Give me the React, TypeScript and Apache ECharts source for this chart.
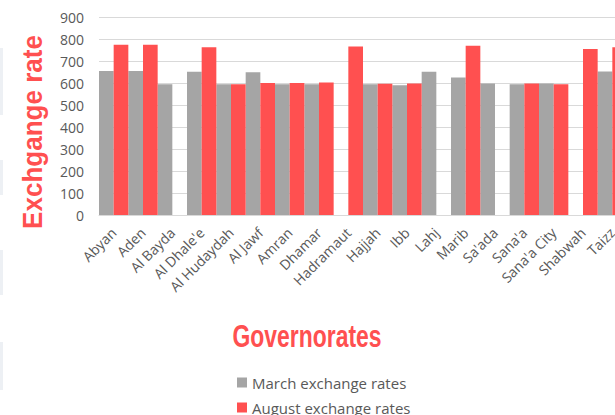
import React, { useEffect, useRef } from "react";
import * as echarts from "echarts";

const categories = [
  "Abyan", "Aden", "Al Bayda", "Al Dhale'e", "Al Hudaydah", "Al Jawf", "Amran", "Dhamar",
  "Hadramaut", "Hajjah", "Ibb", "Lahj", "Marib", "Sa'ada", "Sana'a", "Sana'a City", "Shabwah", "Taizz",
];
const marchRates = [655, 655, 594, 651, 594, 649, 594, 594, null, 594, 590, 651, 625, 598, 594, 598, null, 652];
const augustRates = [774, 774, null, 763, 594, 600, 600, 602, 766, 597, 598, null, 769, null, 598, 594, 754, 763];
const yTicks = [0, 100, 200, 300, 400, 500, 600, 700, 800, 900];

const GRAY = "#A5A5A5";
const RED = "#FF5050";
const TEXT = "#595959";
const FONT = "'Open Sans', 'Noto Sans', sans-serif";

export default function App() {
  const ref = useRef<HTMLDivElement>(null);
  useEffect(() => {
    document.body.style.margin = "0";
    const chart = echarts.init(ref.current!, null, { renderer: "svg" });
    const strips = [
      [48, 115],
      [160, 195],
      [250, 295],
      [342, 390],
    ];
    chart.setOption({
      animation: false,
      backgroundColor: "#ffffff",
      grid: { left: 99, top: 17, width: 528, height: 198, containLabel: false },
      xAxis: {
        type: "category",
        data: categories,
        axisTick: { show: false },
        axisLine: { lineStyle: { color: "#D9D9D9", width: 1 } },
        axisLabel: {
          interval: 0,
          rotate: 45,
          color: TEXT,
          fontFamily: FONT,
          fontSize: 14,
          margin: 15,
        },
      },
      yAxis: {
        type: "value",
        min: yTicks[0],
        max: yTicks[yTicks.length - 1],
        interval: 100,
        axisLine: { show: false },
        axisTick: { show: false },
        splitLine: { lineStyle: { color: "#D9D9D9", width: 1 } },
        axisLabel: { color: TEXT, fontFamily: FONT, fontSize: 14, margin: 15 },
      },
      legend: {
        orient: "vertical",
        left: 237,
        top: 375,
        padding: 0,
        itemWidth: 10,
        itemHeight: 10,
        itemGap: 10,
        icon: "rect",
        textStyle: { color: TEXT, fontFamily: FONT, fontSize: 15, lineHeight: 14 },
        data: ["March exchange rates", "August exchange rates"],
      },
      graphic: [
        ...strips.map(([a, b]) => ({
          type: "rect",
          shape: { x: 0, y: a, width: 3, height: b - a },
          style: { fill: "#EDF0F4" },
          silent: true,
        })),
        {
          type: "text",
          x: 33,
          y: 132,
          rotation: Math.PI / 2,
          scaleX: 0.93,
          style: {
            text: "Exchgange rate",
            fill: RED,
            font: "bold 28px 'Liberation Sans', Arial, sans-serif",
            textAlign: "center",
            textVerticalAlign: "middle",
          },
        },
        {
          type: "text",
          x: 307,
          y: 336,
          scaleX: 0.74,
          style: {
            text: "Governorates",
            fill: RED,
            font: "bold 31px 'Liberation Sans', Arial, sans-serif",
            textAlign: "center",
            textVerticalAlign: "middle",
          },
        },
      ],
      series: [
        {
          name: "March exchange rates",
          type: "bar",
          data: marchRates,
          barGap: "0%",
          barCategoryGap: "0%",
          itemStyle: { color: GRAY },
        },
        {
          name: "August exchange rates",
          type: "bar",
          data: augustRates,
          barGap: "0%",
          barCategoryGap: "0%",
          itemStyle: { color: RED },
        },
      ],
    });
    return () => chart.dispose();
  }, []);
  return (
    <div style={{ position: "fixed", left: 0, top: 0, width: 615, height: 415, overflow: "hidden" }}>
      <div ref={ref} style={{ position: "absolute", left: 0, top: 0, width: 640, height: 415 }} />
    </div>
  );
}
